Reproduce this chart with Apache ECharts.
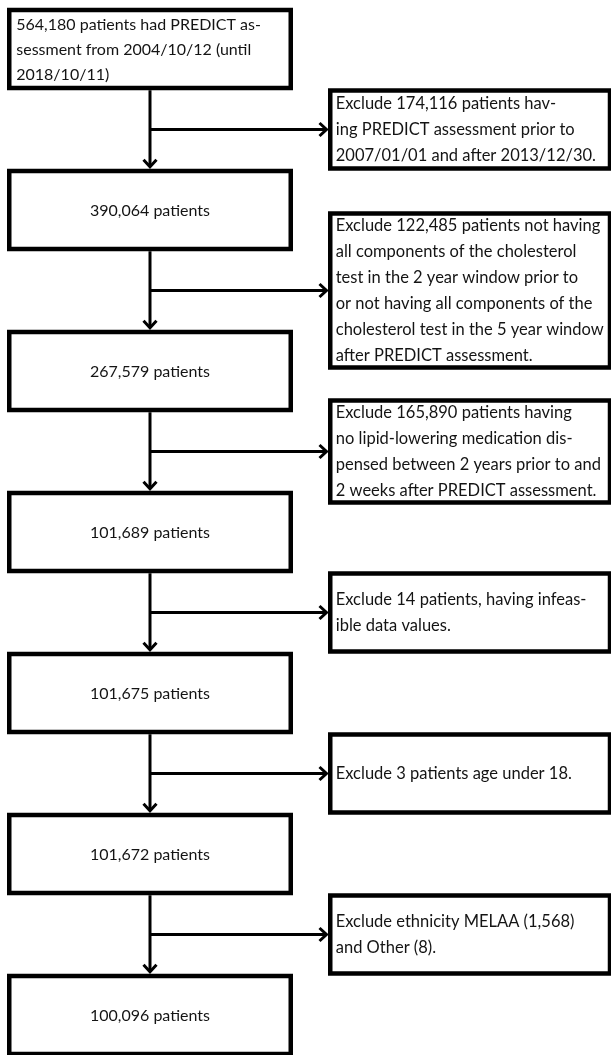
<!DOCTYPE html>
<html><head><meta charset="utf-8">
<script src="https://cdn.jsdelivr.net/npm/echarts@6/dist/echarts.min.js"></script>
<style>html,body{margin:0;padding:0;background:#fff}#c{width:611px;height:1055px}</style>
</head><body><div id="c"></div>
<script>
// ---- data ----
const stageLabels = [
  '564,180 patients had PREDICT as-\nsessment from 2004/10/12 (until\n2018/10/11)',
  '390,064 patients',
  '267,579 patients',
  '101,689 patients',
  '101,675 patients',
  '101,672 patients',
  '100,096 patients'
];
const exclusionLabels = [
  'Exclude 174,116 patients hav-\ning PREDICT assessment prior to\n2007/01/01 and after 2013/12/30.',
  'Exclude 122,485 patients not having\nall components of the cholesterol\ntest in the 2 year window prior to\nor not having all components of the\ncholesterol test in the 5 year window\nafter PREDICT assessment.',
  'Exclude 165,890 patients having\nno lipid-lowering medication dis-\npensed between 2 years prior to and\n2 weeks after PREDICT assessment.',
  'Exclude 14 patients, having infeas-\nible data values.',
  'Exclude 3 patients age under 18.',
  'Exclude ethnicity MELAA (1,568)\nand Other (8).'
];

// ---- layout (pixels / axis units) ----
const L = {
  leftX0: 9.25, leftX1: 290.75, stemX: 150,
  rightX0: 330.25, rightX1: 610,
  boxH: 78, lineH: 26, border: 4.5, arrow: 3,
  textPadL: 7, font: '16px Lato', fontR: '16.5px Lato', color: '#141414'
};
const rowPx = 161, firstCenterPx = 49, H = 1055;

const chart = echarts.init(document.getElementById('c'), null, {renderer: 'canvas'});

function stageItem(params, api) {
  const i = api.value(0);
  const c = api.coord([L.stemX, i]);
  const tl = api.coord([L.leftX0, i]);
  const br = api.coord([L.leftX1, i]);
  const label = stageLabels[i];
  const multi = label.indexOf('\n') >= 0;
  return {
    type: 'group',
    children: [
      {type: 'rect', shape: {x: tl[0], y: c[1] - L.boxH / 2, width: br[0] - tl[0], height: L.boxH},
       style: {fill: '#fff', stroke: '#000', lineWidth: L.border}},
      {type: 'text', style: {
        text: label, x: multi ? tl[0] + L.textPadL : c[0], y: c[1] + 0.5,
        textAlign: multi ? 'left' : 'center', textVerticalAlign: 'middle',
        font: L.font, fill: L.color, lineHeight: multi ? 25 : L.lineH}}
    ]
  };
}

function exclusionItem(params, api) {
  const v = api.value(0);
  const i = Math.round(v - 0.5);
  const label = exclusionLabels[i];
  const n = label.split('\n').length;
  const h = Math.max(L.boxH, n * L.lineH - 2);
  const tl = api.coord([L.rightX0, v]);
  const br = api.coord([L.rightX1, v]);
  return {
    type: 'group',
    children: [
      {type: 'rect', shape: {x: tl[0], y: tl[1] - h / 2, width: br[0] - tl[0], height: h},
       style: {fill: '#fff', stroke: '#000', lineWidth: L.border}},
      {type: 'text', style: {
        text: label, x: tl[0] + L.textPadL - 1.5, y: tl[1] + 0.5,
        textAlign: 'left', textVerticalAlign: 'middle',
        font: L.fontR, fill: L.color, lineHeight: L.lineH}}
    ]
  };
}

function arrowItem(params, api) {
  const i = api.value(0);
  const top = api.coord([L.stemX, i]);
  const next = api.coord([L.stemX, i + 1]);
  const mid = api.coord([L.stemX, i + 0.5]);
  const tipR = api.coord([L.rightX0, i + 0.5]);
  const y0 = top[1] + L.boxH / 2 + L.border / 2;
  const y1 = next[1] - L.boxH / 2 - L.border / 2 - 2;
  const x1 = tipR[0] - L.border / 2 - 1.5;
  const a = 6.5, d = 7;
  const st = {stroke: '#000', lineWidth: L.arrow, fill: null};
  return {
    type: 'group',
    children: [
      {type: 'line', shape: {x1: top[0], y1: y0, x2: top[0], y2: y1 - 1}, style: st},
      {type: 'polyline', shape: {points: [[top[0] - a, y1 - d], [top[0], y1], [top[0] + a, y1 - d]]}, style: st},
      {type: 'line', shape: {x1: top[0], y1: mid[1], x2: x1 - 1, y2: mid[1]}, style: st},
      {type: 'polyline', shape: {points: [[x1 - d, mid[1] - a], [x1, mid[1]], [x1 - d, mid[1] + a]]}, style: st}
    ]
  };
}

chart.setOption({
  animation: false,
  grid: {left: 0, right: 0, top: 0, bottom: 0},
  xAxis: {type: 'value', min: 0, max: 611, show: false},
  yAxis: {type: 'value', min: -firstCenterPx / rowPx, max: (H - firstCenterPx) / rowPx, inverse: true, show: false},
  series: [
    {type: 'custom', renderItem: arrowItem, data: exclusionLabels.map((_, i) => [i]), z: 1},
    {type: 'custom', renderItem: stageItem, data: stageLabels.map((_, i) => [i]), z: 2},
    {type: 'custom', renderItem: exclusionItem, data: exclusionLabels.map((_, i) => [i + 0.5]), z: 2}
  ]
});
</script></body></html>
